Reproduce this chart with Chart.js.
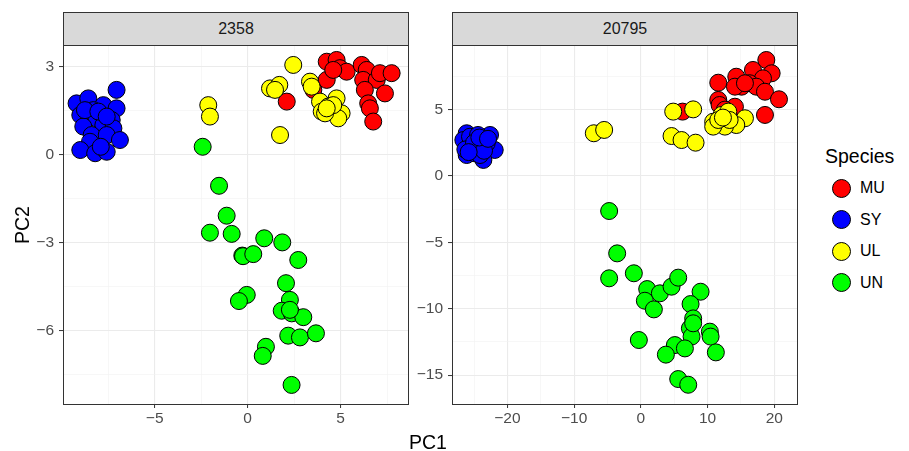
<!DOCTYPE html>
<html>
<head>
<meta charset="utf-8">
<script src="https://cdn.jsdelivr.net/npm/chart.js@4/dist/chart.umd.min.js"></script>
<style>
    body { margin: 0; background: #fff; font-family: "Liberation Sans", Arial, sans-serif; }
    #wrap { position: relative; width: 909px; height: 451px; overflow: hidden; }
    canvas { position: absolute; top: 0; }
    .strip {
        position: absolute; top: 12px; height: 34px; box-sizing: border-box;
        background: #d9d9d9; border: 1px solid #333; color: #1a1a1a;
        font-size: 16px; text-align: center; line-height: 32px;
    }
    .title { position: absolute; font-size: 19.5px; color: #000; white-space: nowrap; line-height: 22px; }
    .key { position: absolute; left: 831.5px; width: 19px; height: 19px; box-sizing: border-box;
           border: 1px solid #000; border-radius: 50%; }
    .keylab { position: absolute; left: 860px; font-size: 16px; color: #000; line-height: 18px; }
</style>
</head>
<body>
<div id="wrap">
    <canvas id="panelA" width="420" height="451" style="left:0px"></canvas>
    <canvas id="panelB" width="400" height="451" style="left:410px"></canvas>
    <div class="strip" style="left:63px;width:346px">2358</div>
    <div class="strip" style="left:452px;width:346px">20795</div>
    <div class="title" style="left:428px;top:431px;transform:translateX(-50%)">PC1</div>
    <div class="title" style="left:22px;top:225px;transform:translate(-50%,-50%) rotate(-90deg)">PC2</div>
    <div class="title" style="left:825px;top:145px">Species</div>
    <div class="key" style="top:178.5px;background:#ff0000"></div>
    <div class="keylab" style="top:179px">MU</div>
    <div class="key" style="top:210px;background:#0000ff"></div>
    <div class="keylab" style="top:210.5px">SY</div>
    <div class="key" style="top:241.5px;background:#ffff00"></div>
    <div class="keylab" style="top:242px">UL</div>
    <div class="key" style="top:273px;background:#00ff00"></div>
    <div class="keylab" style="top:273.5px">UN</div>
</div>
<script>
// species order and fill colours
const species = ['MU', 'SY', 'UL', 'UN'];
const speciesColors = ['#ff0000', '#0000ff', '#ffff00', '#00ff00'];

// panel 2358: [PC1, PC2]
const mu2358 = [[2.1,1.82],[3.53,2.22],[4.25,2.56],[4.25,3.18],[4.78,3.24],[4.96,2.96],[5.32,2.84],[6.13,3.07],[6.4,2.90],[6.21,2.56],[6.94,2.56],[7.11,2.79],[7.74,2.79],[6.3,2.22],[7.38,2.10],[6.48,1.76],[6.57,1.59],[6.75,1.14],[4.6,2.9]];
const sy2358 = [[-7.05,2.22],[-9.2,1.76],[-8.57,1.93],[-7.76,1.70],[-7.05,1.59],[-9.0,1.36],[-8.3,1.53],[-8.12,1.25],[-7.31,1.19],[-8.84,0.97],[-7.76,1.02],[-7.22,0.91],[-8.39,0.68],[-7.58,0.68],[-6.87,0.51],[-8.48,0.45],[-9.0,0.17],[-8.2,0.06],[-7.58,0.11],[-7.9,0.28],[-8.75,1.53],[-8.03,1.48],[-7.58,1.31]];
const ul2358 = [[-2.12,1.70],[-2.03,1.31],[2.45,3.07],[1.2,2.27],[1.7,2.39],[1.47,2.22],[3.35,2.50],[3.44,2.33],[1.74,0.68],[3.89,1.82],[4.78,1.93],[3.98,1.48],[4.42,1.53],[5.05,1.42],[4.87,1.25],[4.33,1.65],[4.6,1.70],[4.16,1.42],[4.25,1.59]];
const un2358 = [[-2.42,0.28],[-1.54,-1.05],[-1.13,-2.07],[-2.03,-2.65],[-0.86,-2.69],[0.89,-2.84],[1.86,-2.98],[-0.29,-3.43],[-0.25,-3.45],[0.3,-3.38],[2.72,-3.58],[2.06,-4.37],[2.27,-4.94],[-0.05,-4.77],[-0.47,-4.98],[1.83,-5.31],[2.37,-5.40],[2.99,-5.53],[2.27,-5.28],[2.18,-6.16],[2.81,-6.22],[3.67,-6.08],[0.98,-6.54],[0.81,-6.85],[2.36,-7.84]];

// panel 20795: [PC1, PC2]
const mu20795 = [[6.25,4.85],[11.6,7.03],[11.6,5.73],[11.8,5.35],[14.1,5.22],[14.3,7.48],[15.1,6.73],[16.8,7.99],[18.8,8.74],[19.6,7.74],[18.3,7.36],[16.3,6.99],[17.3,6.73],[18.6,6.35],[20.7,5.78],[18.6,4.6],[14.1,6.73],[15.6,6.99],[12.6,5.0]];
const sy20795 = [[-26.1,3.22],[-22.6,3.09],[-21.9,1.96],[-26.1,1.58],[-23.6,1.21],[-24.6,2.71],[-25.4,2.21],[-23.9,2.21],[-26.6,2.71],[-23.1,2.46],[-24.9,1.71],[-24.1,1.58],[-25.6,2.96],[-24.4,3.09],[-26.3,2.0],[-25.0,2.5],[-23.5,1.9],[-24.2,2.9],[-25.8,1.8],[-22.9,2.8]];
const ul20795 = [[-7.05,3.22],[-5.5,3.47],[4.85,4.85],[7.84,5.02],[4.6,3.01],[6.1,2.71],[8.2,2.51],[10.84,4.09],[12.1,4.6],[13.1,4.85],[15.6,4.35],[14.3,3.84],[12.6,3.72],[10.84,3.72],[11.6,4.22],[13.3,4.22],[12.3,4.4]];
const un20795 = [[-4.75,-2.64],[-3.55,-5.83],[-4.75,-7.71],[-1.05,-7.33],[0.95,-8.52],[2.85,-8.84],[0.6,-9.4],[1.95,-10.05],[4.6,-8.34],[5.6,-7.66],[8.95,-8.72],[7.45,-9.65],[7.84,-10.73],[7.35,-11.48],[7.6,-12.1],[10.34,-11.73],[10.45,-12.1],[11.24,-13.29],[5.1,-12.74],[6.6,-12.99],[3.75,-13.46],[-0.3,-12.36],[5.6,-15.3],[7.1,-15.73],[7.84,-11.1]];

// grid lines (major labelled, minor blank)
const xMajor2358 = [-5, 0, 5];
const xMinor2358 = [-7.5, -2.5, 2.5, 7.5];
const yMajor2358 = [-6, -3, 0, 3];
const yMinor2358 = [-7.5, -4.5, -1.5, 1.5];
const xMajor20795 = [-20, -10, 0, 10, 20];
const xMinor20795 = [-25, -15, -5, 5, 15];
const yMajor20795 = [-15, -10, -5, 0, 5];
const yMinor20795 = [-12.5, -7.5, -2.5, 2.5, 7.5];

const fmt = v => (v < 0 ? '\u2212' + Math.abs(v) : String(v));

const panelBorder = {
    id: 'panelBorder',
    afterDraw(chart) {
        const a = chart.chartArea;
        const ctx = chart.ctx;
        ctx.save();
        ctx.strokeStyle = '#333333';
        ctx.lineWidth = 1;
        ctx.strokeRect(Math.round(a.left) + 0.5, Math.round(a.top) + 0.5,
            Math.round(a.right - a.left), Math.round(a.bottom - a.top));
        ctx.restore();
    }
};

function axisOptions(major, minor, min, max, fitSize, isX) {
    const all = major.concat(minor).sort((a, b) => a - b);
    const isMajor = v => major.includes(v);
    return {
        type: 'linear',
        min: min,
        max: max,
        afterBuildTicks: axis => { axis.ticks = all.map(v => ({ value: v })); },
        afterFit: axis => { if (isX) axis.height = fitSize; else axis.width = fitSize; },
        border: { display: false },
        grid: {
            color: c => isMajor(c.tick.value) ? '#ebebeb' : '#f2f2f2',
            lineWidth: c => isMajor(c.tick.value) ? 1.1 : 0.6,
            tickColor: c => isMajor(c.tick.value) ? '#333333' : 'rgba(0,0,0,0)',
            tickLength: 4,
            tickWidth: 1
        },
        ticks: {
            autoSkip: false,
            maxRotation: 0,
            padding: isX ? 1 : 5,
            color: '#4d4d4d',
            font: { family: '"Liberation Sans", Arial, sans-serif', size: 15.5 },
            callback: v => isMajor(v) ? fmt(v) : ''
        }
    };
}

function makePanel(id, groups, xAxis, yAxis, padRight) {
    const ctx = document.getElementById(id).getContext('2d');
    return new Chart(ctx, {
        type: 'scatter',
        data: {
            datasets: groups.map((g, i) => ({
                label: species[i],
                data: g.map(p => ({ x: p[0], y: p[1] })),
                // MU drawn first, UN last (on top)
                order: groups.length - i,
                backgroundColor: speciesColors[i],
                borderColor: '#000000',
                borderWidth: 1,
                pointRadius: 8.5,
                pointHoverRadius: 8.5
            }))
        },
        options: {
            responsive: false,
            animation: false,
            events: [],
            layout: { padding: { top: 45, right: padRight, left: 0, bottom: 0 } },
            plugins: { legend: { display: false }, tooltip: { enabled: false } },
            scales: { x: xAxis, y: yAxis }
        },
        plugins: [panelBorder]
    });
}

makePanel('panelA', [mu2358, sy2358, ul2358, un2358],
    axisOptions(xMajor2358, xMinor2358, -9.93, 8.62, 47, true),
    axisOptions(yMajor2358, yMinor2358, -8.49, 3.75, 63, false), 12);

makePanel('panelB', [mu20795, sy20795, ul20795, un20795],
    axisOptions(xMajor20795, xMinor20795, -28.3, 23.4, 47, true),
    axisOptions(yMajor20795, yMinor20795, -17.18, 9.87, 42, false), 13);
</script>
</body>
</html>
